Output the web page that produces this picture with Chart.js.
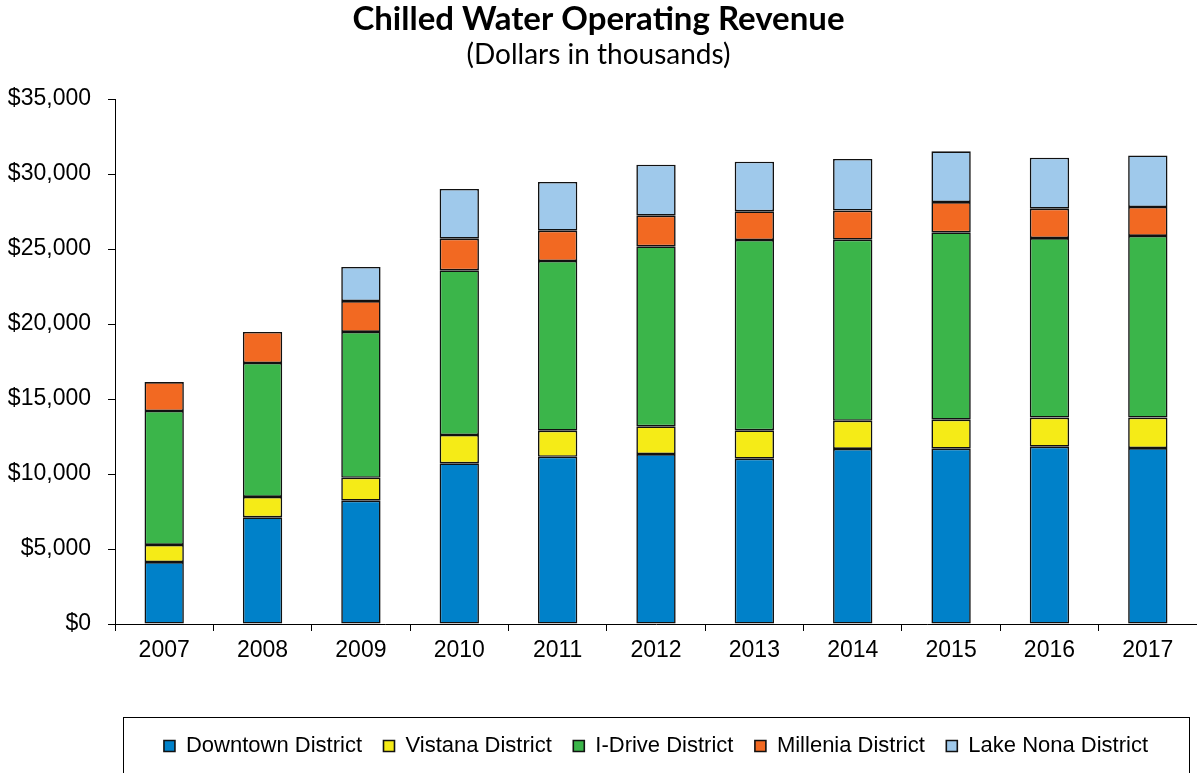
<!DOCTYPE html>
<html>
<head>
<meta charset="utf-8">
<script src="https://cdn.jsdelivr.net/npm/chart.js@4.4.1/dist/chart.umd.min.js"></script>
<style>
  html, body { margin: 0; padding: 0; background: #fff; }
  #wrap { width: 1197px; height: 773px; position: relative; }
</style>
</head>
<body>
<div id="wrap"><canvas id="c" width="1197" height="773"></canvas></div>
<script>
const years = ['2007','2008','2009','2010','2011','2012','2013','2014','2015','2016','2017'];
const downtown = [4130, 7110, 8220, 10710, 11150, 11330, 11020, 11670, 11690, 11820, 11730];
const vistana  = [1140, 1360, 1530, 1890, 1740, 1850, 1890, 1880, 1930, 1940, 2030];
const idrive   = [8930, 8930, 9720, 10980, 11310, 12000, 12690, 12070, 12490, 11970, 12110];
const millenia = [1930, 2070, 2060, 2110, 2020, 2040, 1910, 1940, 2020, 1960, 1930];
const lakeNona = [null, null, 2270, 3310, 3250, 3400, 3310, 3440, 3380, 3400, 3440];
const seriesNames = ['Downtown District','Vistana District','I-Drive District','Millenia District','Lake Nona District'];
const yTicks = [0, 5000, 10000, 15000, 20000, 25000, 30000, 35000];

const colors = ['#0081C9', '#F5EB17', '#3BB54A', '#F26922', '#9FC9EB'];
const seriesData = [downtown, vistana, idrive, millenia, lakeNona];

const frame = {
  id: 'legendFrame',
  afterInit(chart) {
    const lg = chart.legend;
    if (lg) {
      const orig = lg.fit.bind(lg);
      lg.fit = function () { orig(); this.height = 40; };
    }
  },
  afterDraw(chart) {
    const ctx = chart.ctx;
    ctx.save();
    ctx.strokeStyle = '#000';
    ctx.lineWidth = 1;
    ctx.strokeRect(123.5, 717.5, 1066, 80);
    ctx.restore();
  }
};

new Chart(document.getElementById('c'), {
  type: 'bar',
  data: {
    labels: years,
    datasets: seriesData.map((d, i) => ({
      label: seriesNames[i],
      data: d,
      backgroundColor: colors[i],
      borderColor: '#111',
      borderWidth: 1.6,
      borderSkipped: false,
      barPercentage: 0.4,
      categoryPercentage: 1.0
    }))
  },
  options: {
    responsive: false,
    animation: false,
    devicePixelRatio: 1,
    layout: { padding: { left: 0, right: 0, top: 0, bottom: 19.5 } },
    plugins: {
      title: {
        display: true,
        text: 'Chilled Water Operating Revenue',
        color: '#000',
        font: { family: 'Lato', size: 33, weight: 'bold', lineHeight: 1.2 },
        padding: { top: 0, bottom: 0 }
      },
      subtitle: {
        display: true,
        text: '(Dollars in thousands)',
        color: '#000',
        font: { family: 'Lato', size: 28, weight: 'normal', lineHeight: 1.1 },
        padding: { top: 0, bottom: 28.6 }
      },
      legend: {
        display: true,
        position: 'bottom',
        fullSize: false,
        labels: {
          color: '#000',
          boxWidth: 11,
          boxHeight: 11,
          padding: 21.5,
          font: { family: 'Liberation Sans', size: 22 }
        }
      },
      tooltip: { enabled: false }
    },
    scales: {
      x: {
        stacked: true,
        afterFit(scale) { scale.height = 89.5; },
        grid: { display: true, offset: true, drawOnChartArea: false, drawTicks: true, tickLength: 7, color: '#000' },
        border: { display: true, color: '#000', width: 1 },
        ticks: { color: '#000', padding: 6, font: { family: 'Liberation Sans', size: 23 }, maxRotation: 0 }
      },
      y: {
        stacked: true,
        min: 0,
        max: 35000,
        afterFit(scale) { scale.width = 115; },
        afterBuildTicks(scale) { scale.ticks = yTicks.map(v => ({ value: v })); },
        grid: { display: true, drawOnChartArea: false, drawTicks: true, tickLength: 7, color: '#000' },
        border: { display: true, color: '#000', width: 1 },
        ticks: {
          color: '#000',
          padding: 17,
          font: { family: 'Liberation Sans', size: 23 },
          callback: v => '$' + Number(v).toLocaleString('en-US')
        }
      }
    }
  },
  plugins: [frame]
});
</script>
</body>
</html>
